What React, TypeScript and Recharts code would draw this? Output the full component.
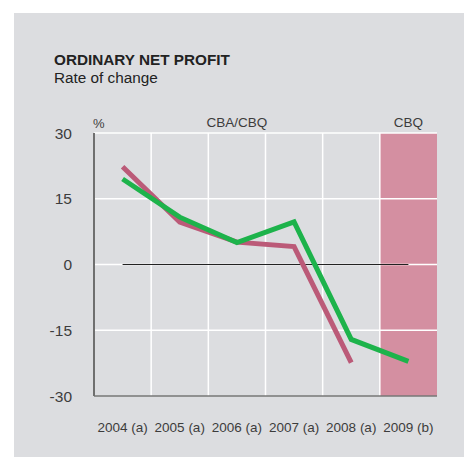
import React from "react";
import {
  LineChart,
  Line,
  XAxis,
  YAxis,
  ReferenceArea,
  ReferenceLine,
} from "recharts";

const years = ["2004 (a)", "2005 (a)", "2006 (a)", "2007 (a)", "2008 (a)", "2009 (b)"];
const cbaCbq: (number | null)[] = [22.3, 9.7, 5.1, 4.1, -22.4, null];
const cbq: number[] = [19.5, 10.8, 5.0, 9.7, -17.1, -22.1];
const yTicks = [-30, -15, 0, 15, 30];
const gridY = [30, 15, 0, -15];
const gridX = [1, 2, 3, 4, 5];

// x is the slot index centred in each year band (0..6 domain)
const data = years.map((year, i) => ({
  x: i + 0.5,
  year,
  cbaCbq: cbaCbq[i],
  cbq: cbq[i],
}));

const FONT = "'Liberation Sans', Arial, Helvetica, sans-serif";

const colors = {
  bg: "#dcdde0",
  magenta: "#bb5a78",
  green: "#1db34b",
  shade: "#d48fa1",
  text: "#3c3c3c",
  axis: "#777777",
} as const;

const App: React.FC = () => {
  return (
    <div
      style={{
        position: "absolute",
        left: 0,
        top: 0,
        width: 464,
        height: 457,
        background: "#ffffff",
        fontFamily: FONT,
      }}
    >
      {/* grey panel */}
      <div
        style={{
          position: "absolute",
          left: 14,
          top: 13,
          width: 450,
          height: 444,
          background: colors.bg,
        }}
      />
      <div
        style={{
          position: "absolute",
          left: 54,
          top: 51,
          fontSize: 15.3,
          lineHeight: "18px",
          color: "#222",
          whiteSpace: "nowrap",
        }}
      >
        <div style={{ fontWeight: 700 }}>ORDINARY NET PROFIT</div>
        <div>Rate of change</div>
      </div>
      <div
        style={{
          position: "absolute",
          left: 93,
          top: 116,
          fontSize: 13,
          lineHeight: "15px",
          color: colors.text,
        }}
      >
        %
      </div>
      <div style={{ position: "absolute", left: 0, top: 0 }}>
        <LineChart
          width={464}
          height={457}
          data={data}
          margin={{ top: 133, right: 27, bottom: 0, left: 0 }}
        >
          <XAxis
            dataKey="x"
            type="number"
            domain={[0, 6]}
            ticks={data.map((d) => d.x)}
            tickFormatter={(v) => years[Math.floor(Number(v))]}
            height={61}
            tickLine={false}
            tickSize={0}
            tickMargin={26}
            axisLine={{ stroke: colors.axis, strokeWidth: 1.5 }}
            tick={{ fill: colors.text, fontSize: 13.5, fontFamily: FONT }}
            interval={0}
          />
          <YAxis
            type="number"
            domain={[-30, 30]}
            ticks={yTicks}
            width={94}
            tickLine={false}
            tickSize={0}
            tickMargin={22}
            axisLine={{ stroke: "#6f6f6f", strokeWidth: 2 }}
            tick={{ fill: colors.text, fontSize: 15.5, fontFamily: FONT }}
          />
          <ReferenceArea
            x1={0}
            x2={5}
            y1={-30}
            y2={30}
            fill="none"
            fillOpacity={0}
            stroke="none"
            label={{
              value: "CBA/CBQ",
              position: "top",
              offset: 6,
              fill: colors.text,
              fontSize: 13.5,
              fontFamily: FONT,
            }}
          />
          <ReferenceArea
            x1={5}
            x2={6}
            y1={-30}
            y2={30}
            fill={colors.shade}
            fillOpacity={1}
            stroke="none"
            label={{
              value: "CBQ",
              position: "top",
              offset: 6,
              fill: colors.text,
              fontSize: 13.5,
              fontFamily: FONT,
            }}
          />
          {gridY.map((v) => (
            <ReferenceLine key={`gy${v}`} y={v} stroke="#ffffff" strokeWidth={1.5} />
          ))}
          {gridX.map((v) => (
            <ReferenceLine key={`gx${v}`} x={v} stroke="#ffffff" strokeWidth={1.5} />
          ))}
          <ReferenceLine
            segment={[
              { x: data[0].x, y: 0 },
              { x: data[data.length - 1].x, y: 0 },
            ]}
            stroke="#222"
            strokeWidth={1}
          />
          <Line
            type="linear"
            dataKey="cbaCbq"
            stroke={colors.magenta}
            strokeWidth={5}
            dot={false}
            activeDot={false}
            isAnimationActive={false}
          />
          <Line
            type="linear"
            dataKey="cbq"
            stroke={colors.green}
            strokeWidth={5}
            dot={false}
            activeDot={false}
            isAnimationActive={false}
          />
        </LineChart>
      </div>
    </div>
  );
};

export default App;
